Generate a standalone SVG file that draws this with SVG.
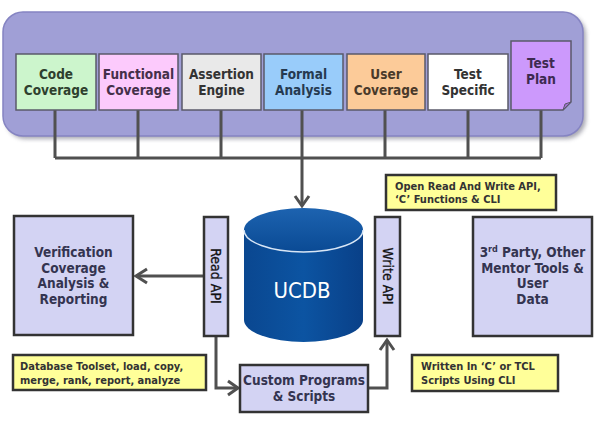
<svg xmlns="http://www.w3.org/2000/svg" width="595" height="423" viewBox="0 0 595 423">
<defs>
<style>
.t{font-family:"DejaVu Sans Condensed","DejaVu Sans",sans-serif;font-weight:bold;text-anchor:middle}
.tb{stroke:#5a5a6a;stroke-width:1.5}
.lb{fill:#d3d3f3;stroke:#333;stroke-width:2.5}
.yb{fill:#ffff99;stroke:#333;stroke-width:2.5}
.yt{font-family:"DejaVu Sans Condensed","DejaVu Sans",sans-serif;font-weight:bold;font-size:11px;fill:#333}
.lt{fill:#343450;font-size:13.5px}
.conn{fill:none;stroke:#505050;stroke-width:3}
.head{fill:none;stroke:#505050;stroke-width:3;stroke-linejoin:miter}
</style>
<linearGradient id="cylTop" x1="0" y1="0" x2="0" y2="1">
<stop offset="0" stop-color="#1d63b0"/>
<stop offset="1" stop-color="#0a4a94"/>
</linearGradient>
<linearGradient id="cylBody" x1="0" y1="0" x2="1" y2="0">
<stop offset="0" stop-color="#0a4790"/>
<stop offset="0.5" stop-color="#0c54a2"/>
<stop offset="1" stop-color="#094088"/>
</linearGradient>
<filter id="sh" x="-5%" y="-10%" width="110%" height="130%">
<feGaussianBlur stdDeviation="2"/>
</filter>
</defs>
<rect width="595" height="423" fill="#ffffff"/>

<g id="panel">
<rect x="6" y="15" width="580" height="124" rx="20" fill="#707080" opacity="0.6" filter="url(#sh)"/>
<rect x="3" y="12" width="580" height="124" rx="20" fill="#a09fd6" stroke="#8584c2" stroke-width="1.5"/>
</g>

<g id="connectors">
<path class="conn" d="M55,110 V158 M138,110 V158 M221,110 V158 M385,110 V158 M468,110 V158 M541,110 V158 M55,158 H541 M302,110 V204"/>
<polyline class="head" points="295,196 302,206 309,196"/>
<path class="conn" d="M204,276 H136"/>
<polyline class="head" points="147,269 136,276 147,283"/>
<path class="conn" d="M216,336 V388 H238"/>
<polyline class="head" points="228,381 238,388 228,395"/>
<path class="conn" d="M368,388 H387 V340"/>
<polyline class="head" points="380,350 387,340 394,350"/>
</g>

<g id="code-coverage">
<rect class="tb" x="16" y="54" width="80" height="56" fill="#ccf5cc"/>
<text class="t" x="56" y="79" font-size="13.5" fill="#2e402e">Code</text>
<text class="t" x="56" y="95" font-size="13.5" fill="#2e402e">Coverage</text>
</g>
<g id="functional-coverage">
<rect class="tb" x="99" y="54" width="79" height="56" fill="#fccafc"/>
<text class="t" x="138.5" y="79" font-size="13.5" fill="#45304a">Functional</text>
<text class="t" x="138.5" y="95" font-size="13.5" fill="#45304a">Coverage</text>
</g>
<g id="assertion-engine">
<rect class="tb" x="182" y="54" width="79" height="56" fill="#e9e9e9"/>
<text class="t" x="221.5" y="79" font-size="13.5" fill="#333">Assertion</text>
<text class="t" x="221.5" y="95" font-size="13.5" fill="#333">Engine</text>
</g>
<g id="formal-analysis">
<rect class="tb" x="264" y="54" width="79" height="56" fill="#99ccfa"/>
<text class="t" x="303.5" y="79" font-size="13.5" fill="#263a50">Formal</text>
<text class="t" x="303.5" y="95" font-size="13.5" fill="#263a50">Analysis</text>
</g>
<g id="user-coverage">
<rect class="tb" x="347" y="54" width="78" height="56" fill="#fccb99"/>
<text class="t" x="386" y="79" font-size="13.5" fill="#4a3a2a">User</text>
<text class="t" x="386" y="95" font-size="13.5" fill="#4a3a2a">Coverage</text>
</g>
<g id="test-specific">
<rect class="tb" x="428" y="54" width="80" height="56" fill="#ffffff"/>
<text class="t" x="468" y="79" font-size="13.5" fill="#333">Test</text>
<text class="t" x="468" y="95" font-size="13.5" fill="#333">Specific</text>
</g>
<g id="test-plan">
<path class="tb" d="M511,41 H571 V102 L563,110 H511 Z" fill="#cc99fc"/>
<path d="M563,110 L565,104 L571,102 Z" fill="#a070d0" stroke="#5a5a6a" stroke-width="1"/>
<text class="t" x="541" y="68" font-size="13.5" fill="#3d2a50">Test</text>
<text class="t" x="541" y="84" font-size="13.5" fill="#3d2a50">Plan</text>
</g>

<g id="ucdb">
<path d="M244,230 V320 A59.5,22 0 0 0 363,320 V230 Z" fill="url(#cylBody)"/>
<ellipse cx="303.5" cy="230" rx="59.5" ry="22" fill="url(#cylTop)"/>
<path d="M244,230 A59.5,22 0 0 0 363,230" fill="none" stroke="#d8e6f6" stroke-width="1.5"/>
<text x="302" y="298" font-family="'DejaVu Sans Condensed','DejaVu Sans',sans-serif" font-size="22" fill="#ffffff" text-anchor="middle">UCDB</text>
</g>

<g id="read-api">
<rect class="lb" x="204" y="217" width="24" height="119"/>
<text transform="translate(216,276) rotate(90)" x="0" y="5" font-family="'DejaVu Sans Condensed','DejaVu Sans',sans-serif" font-size="14" fill="#111" stroke="#111" stroke-width="0.3" text-anchor="middle">Read API</text>
</g>
<g id="write-api">
<rect class="lb" x="375" y="217" width="25" height="119"/>
<text transform="translate(387.5,276) rotate(90)" x="0" y="5" font-family="'DejaVu Sans Condensed','DejaVu Sans',sans-serif" font-size="14" fill="#111" stroke="#111" stroke-width="0.3" text-anchor="middle">Write API</text>
</g>

<g id="verification">
<rect class="lb" x="14" y="216" width="119" height="119"/>
<text class="t lt" x="73.5" y="257">Verification</text>
<text class="t lt" x="73.5" y="273">Coverage</text>
<text class="t lt" x="73.5" y="288">Analysis &amp;</text>
<text class="t lt" x="73.5" y="304">Reporting</text>
</g>

<g id="third-party">
<rect class="lb" x="473" y="217" width="119" height="119"/>
<text class="t lt" x="532.5" y="257">3<tspan font-size="9" dy="-5">rd</tspan><tspan dy="5"> Party, Other</tspan></text>
<text class="t lt" x="532.5" y="273">Mentor Tools &amp;</text>
<text class="t lt" x="532.5" y="288">User</text>
<text class="t lt" x="532.5" y="304">Data</text>
</g>

<g id="custom-programs">
<rect class="lb" x="240" y="365" width="128" height="47"/>
<text class="t lt" x="304" y="385">Custom Programs</text>
<text class="t lt" x="304" y="401">&amp; Scripts</text>
</g>

<g id="note-database">
<rect class="yb" x="13" y="355" width="193" height="35"/>
<text class="yt" x="20" y="370">Database Toolset, load, copy,</text>
<text class="yt" x="20" y="384">merge, rank, report, analyze</text>
</g>
<g id="note-open-api">
<rect class="yb" x="386" y="175" width="170" height="35"/>
<text class="yt" x="395" y="190">Open Read And Write API,</text>
<text class="yt" x="395" y="203">‘C’ Functions  &amp; CLI</text>
</g>
<g id="note-written">
<rect class="yb" x="412" y="355" width="146" height="36"/>
<text class="yt" x="421" y="370">Written In ‘C’ or TCL</text>
<text class="yt" x="421" y="384">Scripts Using CLI</text>
</g>
</svg>
